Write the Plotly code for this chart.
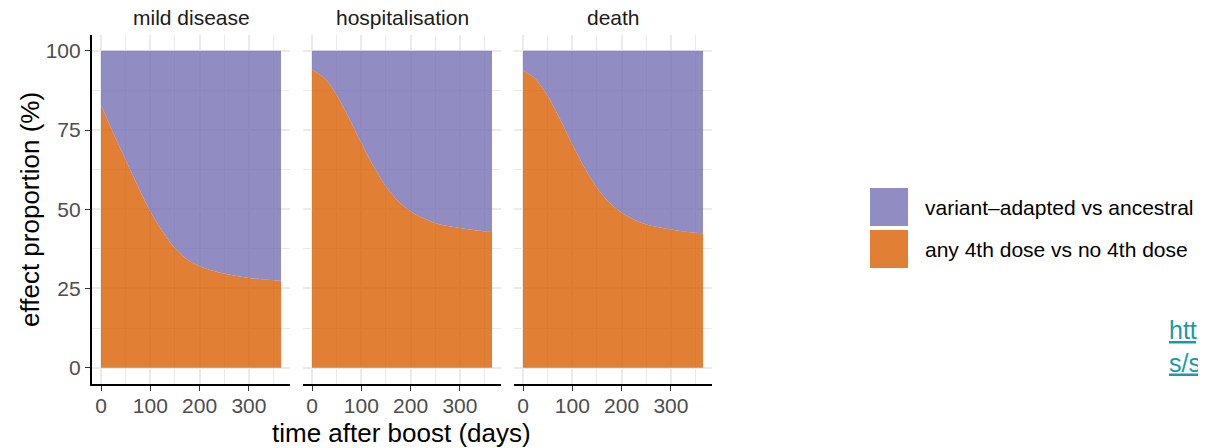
import plotly.graph_objects as go

# ---- data ----
days = [0, 25, 50, 75, 100, 125, 150, 175, 200, 225, 250, 275, 300, 325, 350, 365]
panels = ["mild disease", "hospitalisation", "death"]
any4th_mild = [83.0, 74.0, 65.6, 57.2, 49.3, 43.0, 37.7, 34.1, 32.0, 30.7, 29.7, 28.9, 28.3, 27.9, 27.6, 27.4]
any4th_hosp = [94.0, 91.4, 86.1, 78.8, 70.9, 63.5, 57.2, 52.5, 49.3, 47.2, 45.6, 44.7, 44.1, 43.5, 43.0, 42.8]
any4th_death = [93.8, 91.2, 85.8, 78.4, 70.5, 63.0, 56.8, 52.1, 48.9, 46.8, 45.2, 44.3, 43.6, 43.0, 42.6, 42.4]
series_names = ["any 4th dose vs no 4th dose", "variant\u2013adapted vs ancestral"]
x_ticks = [0, 100, 200, 300]
y_ticks = [0, 25, 50, 75, 100]

any4th = [any4th_mild, any4th_hosp, any4th_death]
variant = [[100 - v for v in s] for s in any4th]  # remaining share of the 100 %

ORANGE = "rgba(217,95,2,0.8)"
PURPLE = "rgba(117,112,179,0.8)"
FONT = "Liberation Sans, Arial, sans-serif"

# the page body has an 8px margin, so the figure is drawn 8px smaller and
# window pixel positions are converted to figure fractions here
OFF = 8
W, H = 1206 - OFF, 448 - OFF


def px(x):
    return (x - OFF) / W


def py(y):
    return 1 - (y - OFF) / H


fig = go.Figure()

x_px = [(92, 290), (303, 501), (514, 712)]
y_dom = [py(383.5), py(35)]

for i, name in enumerate(panels):
    xa = "x" if i == 0 else f"x{i+1}"
    ya = "y" if i == 0 else f"y{i+1}"
    fig.add_trace(go.Scatter(x=days, y=any4th[i], xaxis=xa, yaxis=ya,
                             stackgroup=f"s{i}", mode="lines",
                             line=dict(width=0, shape="spline", smoothing=0.8),
                             fillcolor=ORANGE, name=series_names[0],
                             showlegend=False, hoverinfo="skip"))
    fig.add_trace(go.Scatter(x=days, y=variant[i], xaxis=xa, yaxis=ya,
                             stackgroup=f"s{i}", mode="lines",
                             line=dict(width=0, shape="spline", smoothing=0.8),
                             fillcolor=PURPLE, name=series_names[1],
                             showlegend=False, hoverinfo="skip"))

    xkey = "xaxis" if i == 0 else f"xaxis{i+1}"
    ykey = "yaxis" if i == 0 else f"yaxis{i+1}"
    fig.layout[xkey] = dict(
        domain=[px(x_px[i][0]), px(x_px[i][1])], anchor=ya,
        range=[-18.25, 383.25], tickvals=x_ticks,
        showgrid=True, gridcolor="#ebebeb", gridwidth=1.8,
        minor=dict(tickvals=[50, 150, 250, 350], showgrid=True,
                   gridcolor="#ebebeb", gridwidth=0.9),
        showline=True, linecolor="black", linewidth=2.2,
        ticks="outside", ticklen=5, tickwidth=1.3, tickcolor="#333333",
        ticklabelstandoff=-3,
        tickfont=dict(family=FONT, size=21, color="#4d4d4d"),
        zeroline=False, fixedrange=True)
    fig.layout[ykey] = dict(
        domain=y_dom, anchor=xa, range=[-5, 105], tickvals=y_ticks,
        showgrid=True, gridcolor="#ebebeb", gridwidth=1.8,
        minor=dict(tickvals=[12.5, 37.5, 62.5, 87.5], showgrid=True,
                   gridcolor="#ebebeb", gridwidth=0.9),
        showline=(i == 0), linecolor="black", linewidth=2.2,
        ticks="outside" if i == 0 else "", ticklen=5, tickwidth=1.3,
        tickcolor="#333333", showticklabels=(i == 0),
        tickfont=dict(family=FONT, size=21, color="#4d4d4d"),
        zeroline=False, fixedrange=True)

    # facet strip title
    fig.add_annotation(text=name, xref="paper", yref="paper",
                       x=px((x_px[i][0] + x_px[i][1]) / 2), y=py(18),
                       xanchor="center", yanchor="middle", showarrow=False,
                       font=dict(family=FONT, size=21, color="#1a1a1a"))

# axis titles
fig.add_annotation(text="effect proportion (%)", xref="paper", yref="paper",
                   x=px(30), y=py(210), textangle=-90, showarrow=False,
                   xanchor="center", yanchor="middle",
                   font=dict(family=FONT, size=26, color="black"))
fig.add_annotation(text="time after boost (days)", xref="paper", yref="paper",
                   x=px(401), y=py(433), showarrow=False,
                   xanchor="center", yanchor="middle",
                   font=dict(family=FONT, size=26, color="black"))

# legend (custom keys)
legend_rows = [(series_names[1], PURPLE, 188), (series_names[0], ORANGE, 230)]
for label, col, top in legend_rows:
    fig.add_shape(type="rect", xref="paper", yref="paper",
                  x0=px(870), x1=px(908), y0=py(top + 38), y1=py(top),
                  fillcolor=col, line=dict(width=0))
    fig.add_annotation(text=label, xref="paper", yref="paper",
                       x=px(923), y=py(top + 19), xanchor="left",
                       yanchor="middle", showarrow=False,
                       font=dict(family=FONT, size=21, color="black"))

# cut-off link text at right edge
fig.add_annotation(text="<u>https://www.nature.com/article</u><br><u>s/s41467-023-</u>",
                   xref="paper", yref="paper", x=px(1167), y=py(346),
                   xanchor="left", yanchor="middle", align="left",
                   showarrow=False,
                   font=dict(family=FONT, size=25, color="#1a9aa8"))

fig.update_layout(width=W, height=H, margin=dict(l=0, r=0, t=0, b=0),
                  paper_bgcolor="white", plot_bgcolor="white",
                  showlegend=False)

fig.write_html("out.html")
